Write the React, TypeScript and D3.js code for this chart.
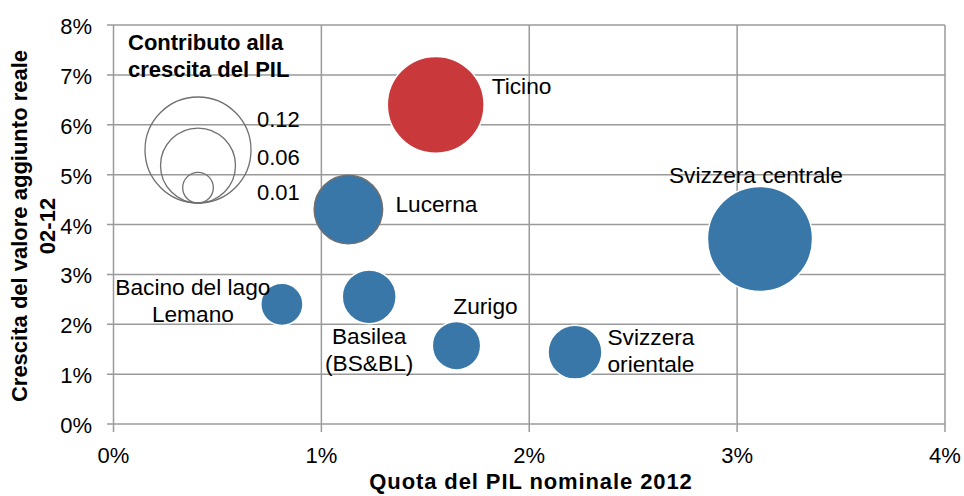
import React from "react";
import * as d3 from "d3";

// ---- data ----
const regions = [
  "Ticino",
  "Lucerna",
  "Svizzera centrale",
  "Bacino del lago Lemano",
  "Basilea (BS&BL)",
  "Zurigo",
  "Svizzera orientale",
];
const gdpShare = [1.55, 1.13, 3.11, 0.81, 1.23, 1.65, 2.22]; // % of nominal GDP 2012
const growth = [6.4, 4.3, 3.71, 2.4, 2.55, 1.57, 1.44]; // % real value added growth 02-12
const contribution = [0.1, 0.05, 0.118, 0.019, 0.031, 0.025, 0.031];
const xTicks = [0, 1, 2, 3, 4];
const yTicks = [0, 1, 2, 3, 4, 5, 6, 7, 8];
const legendValues = [0.12, 0.06, 0.01];
const legendLabels = ["0.12", "0.06", "0.01"];

const W = 964;
const H = 496;
const FONT = "'Liberation Sans', Arial, sans-serif";
const BLUE = "#3a77a9";
const RED = "#c9393b";
const GRID = "#9a9a9a";

// label layout: lines, dx/dy from bubble center for first line baseline, anchor
const labelLayout: Record<string, { lines: string[]; dx: number; dy: number; anchor: string }> = {
  Ticino: { lines: ["Ticino"], dx: 56, dy: -11, anchor: "start" },
  Lucerna: { lines: ["Lucerna"], dx: 47, dy: 2, anchor: "start" },
  "Svizzera centrale": { lines: ["Svizzera centrale"], dx: -4, dy: -56, anchor: "middle" },
  "Bacino del lago Lemano": { lines: ["Bacino del lago", "Lemano"], dx: -89, dy: -9, anchor: "middle" },
  "Basilea (BS&BL)": { lines: ["Basilea", "(BS&BL)"], dx: 0, dy: 47, anchor: "middle" },
  Zurigo: { lines: ["Zurigo"], dx: 29, dy: -32, anchor: "middle" },
  "Svizzera orientale": { lines: ["Svizzera", "orientale"], dx: 76, dy: -7, anchor: "middle" },
};

export default function App() {
  const x = d3.scaleLinear().domain([0, 4]).range([113.5, 945]);
  const y = d3.scaleLinear().domain([0, 8]).range([424, 25]);
  const r = d3.scaleSqrt().domain([0, 0.12]).range([0, 53]);

  const legendCx = 198;
  const legendBottom = 203;
  const legendLabelY = [127, 165, 200];

  return (
    <svg
      width={W}
      height={H}
      style={{ position: "absolute", left: 0, top: 0, background: "#fff" }}
      fontFamily={FONT}
    >
      {/* gridlines */}
      {yTicks.map((t) => (
        <line key={"gy" + t} x1={107} x2={x(4)} y1={y(t)} y2={y(t)} stroke={GRID} strokeWidth={1.5} />
      ))}
      {xTicks.map((t) => (
        <line key={"gx" + t} x1={x(t)} x2={x(t)} y1={y(8)} y2={y(0) + 8} stroke={GRID} strokeWidth={1.5} />
      ))}

      {/* y tick labels */}
      {yTicks.map((t) => (
        <text key={"ty" + t} x={92} y={y(t) + 9} textAnchor="end" fontSize={22} fill="#000">
          {t + "%"}
        </text>
      ))}
      {/* x tick labels */}
      {xTicks.map((t) => (
        <text key={"tx" + t} x={x(t)} y={463} textAnchor="middle" fontSize={22} fill="#000">
          {t + "%"}
        </text>
      ))}

      {/* axis titles */}
      <text x={531} y={489} textAnchor="middle" fontSize={22} fontWeight="bold" letterSpacing={0.9}>
        Quota del PIL nominale 2012
      </text>
      <g transform="translate(27,226) rotate(-90)">
        <text x={0} y={0} textAnchor="middle" fontSize={22} fontWeight="bold">
          Crescita del valore aggiunto reale
        </text>
        <text x={0} y={28} textAnchor="middle" fontSize={22} fontWeight="bold">
          02-12
        </text>
      </g>

      {/* bubbles */}
      {regions.map((name, i) => (
        <circle
          key={"b" + name}
          cx={x(gdpShare[i])}
          cy={y(growth[i])}
          r={r(contribution[i])}
          fill={name === "Ticino" ? RED : BLUE}
          stroke={name === "Lucerna" ? "#6f6f6f" : "#fff"}
          strokeWidth={1.5}
        />
      ))}

      {/* labels */}
      {regions.map((name, i) => {
        const L = labelLayout[name];
        const cx = x(gdpShare[i]);
        const cy = y(growth[i]);
        return (
          <text key={"l" + name} fontSize={22.7} textAnchor={L.anchor} fill="#000">
            {L.lines.map((ln, j) => (
              <tspan key={j} x={cx + L.dx} y={cy + L.dy + j * 26.7}>
                {ln}
              </tspan>
            ))}
          </text>
        );
      })}

      {/* legend */}
      <text x={128} y={50} fontSize={22} fontWeight="bold">
        Contributo alla
      </text>
      <text x={128} y={77} fontSize={22} fontWeight="bold">
        crescita del PIL
      </text>
      {legendValues.map((v) => (
        <circle
          key={"lg" + v}
          cx={legendCx}
          cy={legendBottom - r(v)}
          r={r(v)}
          fill="none"
          stroke="#6f6f6f"
          strokeWidth={1.3}
        />
      ))}
      {legendLabels.map((lab, i) => (
        <text key={"ll" + lab} x={257} y={legendLabelY[i]} fontSize={22}>
          {lab}
        </text>
      ))}
    </svg>
  );
}
